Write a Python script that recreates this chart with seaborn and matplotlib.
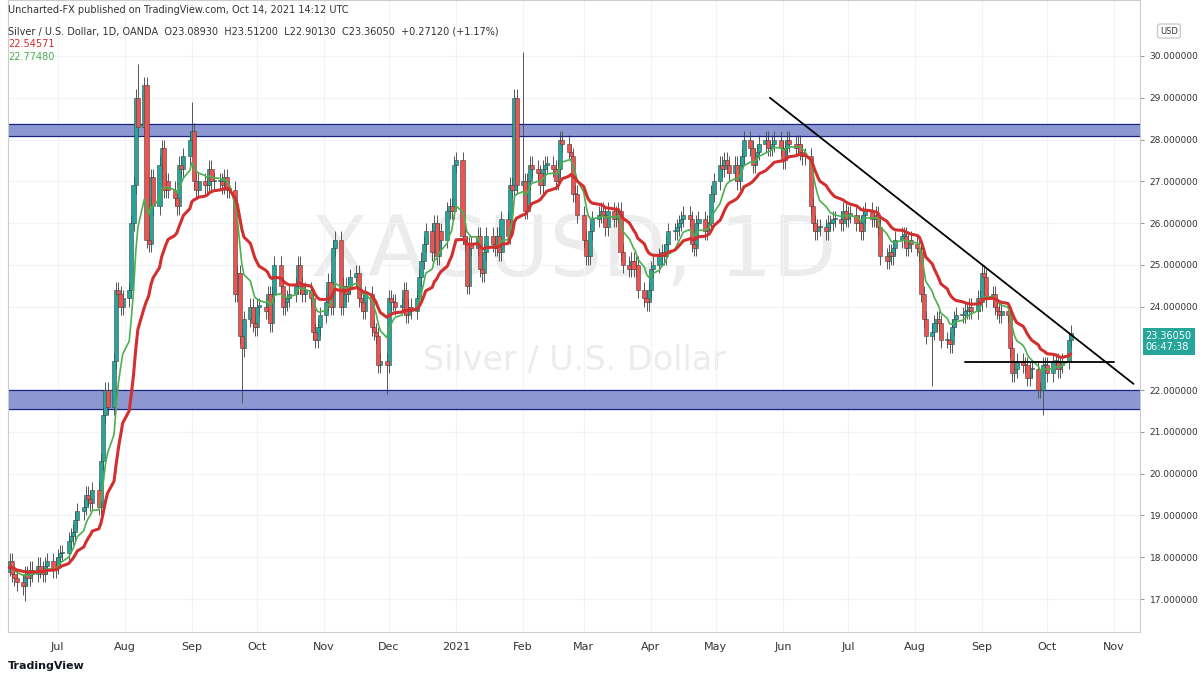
import pandas as pd
import numpy as np
import matplotlib
matplotlib.use("Agg")
import matplotlib.pyplot as plt
import matplotlib.dates as mdates
import seaborn as sns

# daily closes, Jun 2020 .. Oct 2021
jun20 = [17.75,17.9,17.6,17.5,17.4,17.3,17.6,17.5,17.7,17.6,17.8,17.7,17.6,17.8,17.9,17.7,17.8]
jul20 = [18.0,18.1,18.1,18.4,18.5,18.6,18.9,19.1,19.2,19.5,19.4,19.3,19.6,19.2,20.3,21.4,22.0,21.6,22.7,24.4,24.3,24.0,24.2]
aug20 = [24.4,26.0,26.9,29.0,28.3,29.3,25.6,25.5,27.1,26.4,27.4,27.8,26.8,27.0,26.8,26.6,26.4,27.4,27.3,27.6,28.0]
sep20 = [28.2,27.0,26.8,27.0,26.9,26.9,27.3,27.0,27.0,27.0,26.9,27.1,26.8,26.8,24.3,24.8,23.3,23.0,23.7,24.0,23.6,23.5]
oct20 = [24.0,24.0,23.9,24.3,23.6,24.3,25.0,24.5,24.0,24.1,24.2,24.3,24.5,25.0,24.5,24.3,24.4,24.2,23.4,23.2,23.5,23.8]
nov20 = [24.1,24.6,24.0,25.4,25.6,24.0,24.5,24.3,24.5,24.7,24.8,24.2,24.1,23.9,24.3,23.5,23.4,23.3,22.6,22.7,22.6]
dec20 = [24.2,24.1,24.1,24.0,24.0,24.4,23.8,24.0,23.9,24.2,24.7,25.1,25.5,25.8,25.3,26.0,25.2,25.8,25.6,26.3,26.4,26.3]
jan21 = [27.4,27.5,25.7,25.5,24.5,25.5,25.4,25.7,24.9,24.8,25.3,25.7,25.5,25.4,25.7,25.3,26.1,25.7,26.9,26.8]
feb21 = [29.0,26.9,27.0,26.3,27.0,27.4,27.3,27.2,26.9,27.3,27.4,27.4,27.3,27.0,27.3,28.0,27.9,27.7,27.6,26.7]
mar21 = [26.7,26.2,25.6,25.2,25.2,25.8,26.1,26.2,26.3,26.2,25.9,26.3,26.1,26.2,26.3,25.3,25.0,24.9,25.1,24.9,25.0,24.4,24.2]
apr21 = [24.1,24.4,24.9,25.0,25.2,25.3,25.2,25.5,25.8,25.8,25.9,26.0,26.1,26.2,26.1,25.5,25.4,26.0,26.1,25.8,26.0,26.0]
may21 = [26.7,27.0,27.4,27.3,27.5,27.4,27.2,27.4,27.0,27.4,27.6,28.0,27.8,27.4,27.6,27.7,27.9,28.0,27.8,27.8,27.9]
jun21 = [28.0,27.8,27.5,27.8,28.0,27.9,27.8,27.9,27.7,27.6,27.6,26.4,26.0,25.8,25.9,25.9,25.8,26.0,26.0,26.1,26.1,26.0]
jul21 = [26.3,26.1,26.2,26.2,26.0,26.0,25.8,26.2,26.3,26.1,26.1,26.2,25.9,25.2,25.1,25.3,25.2,25.4,25.6,25.7,25.7,25.4]
aug21 = [25.6,25.5,25.4,25.3,24.3,23.7,23.3,23.4,23.6,23.7,23.6,23.2,23.2,23.1,23.5,23.7,23.8,23.8,23.9,23.9,24.0,23.9]
sep21 = [24.2,24.1,24.8,24.7,24.2,24.3,24.0,23.9,23.8,23.9,23.8,23.0,22.4,22.5,22.7,22.6,22.6,22.3,22.5,22.5,22.0,22.0]
oct21 = [22.6,22.6,22.4,22.7,22.7,22.5,22.6,22.7,23.2,23.3605]

# notable wicks: (date, high, low)
spikes = [("2020-06-16", None, 16.95), ("2020-08-07", 29.8, None), ("2020-09-01", 28.9, None),
          ("2020-09-24", None, 21.7), ("2020-11-30", None, 21.9), ("2021-02-01", 30.1, None),
          ("2021-08-09", None, 22.1), ("2021-09-29", None, 21.4)]
top_zone = (28.08, 28.38)
bot_zone = (21.55, 22.0)
trend = (("2021-05-26", 29.0), ("2021-11-10", 22.15))
hline = ("2021-08-24", "2021-11-01", 22.68)
months = ["Jul", "Aug", "Sep", "Oct", "Nov", "Dec", "2021", "Feb", "Mar", "Apr", "May", "Jun",
          "Jul", "Aug", "Sep", "Oct", "Nov"]
price_ticks = [17, 18, 19, 20, 21, 22, 24, 25, 26, 27, 28, 29, 30]

closes = sum([jun20, jul20, aug20, sep20, oct20, nov20, dec20, jan21, feb21, mar21, apr21,
              may21, jun21, jul21, aug21, sep21, oct21], [])
dates = pd.bdate_range("2020-06-08", periods=len(closes))
df = pd.DataFrame({"date": dates, "close": closes})
df["open"] = df["close"].shift(1).fillna(df["close"].iloc[0] - 0.1)
df["high"] = df[["open", "close"]].max(axis=1) + 0.2
df["low"] = df[["open", "close"]].min(axis=1) - 0.2
for d, h, l in spikes:
    i = df["date"].searchsorted(pd.Timestamp(d))
    if h: df.loc[i, "high"] = h
    if l: df.loc[i, "low"] = l
df["fast"] = df["close"].ewm(span=9, adjust=False).mean()
df["slow"] = df["close"].ewm(span=21, adjust=False).mean()

sns.set_style("white")
fig = plt.figure(figsize=(12, 6.8), dpi=100)
ax = fig.add_axes([8/1200, 48/680, 1132/1200, 632/680])
up = df["close"] >= df["open"]
x = mdates.date2num(df["date"])
for m, col in [(up, "#26a69a"), (~up, "#ef5350")]:
    ax.vlines(x[m], df["low"][m], df["high"][m], color="#555555", lw=0.7, zorder=2)
    ax.bar(x[m], (df["close"] - df["open"])[m].abs().clip(lower=0.03),
           bottom=df[["open", "close"]].min(axis=1)[m], width=1.9, color=col,
           edgecolor="#444444", lw=0.4, zorder=3)
sns.lineplot(data=df, x="date", y="fast", color="#4caf50", lw=1.2, ax=ax, zorder=4)
sns.lineplot(data=df, x="date", y="slow", color="#d32f2f", lw=2.2, ax=ax, zorder=5)

for lo, hi in [top_zone, bot_zone]:
    ax.axhspan(lo, hi, color="#7986cb", alpha=0.85, zorder=1)
    ax.axhline(lo, color="#1a237e", lw=0.8); ax.axhline(hi, color="#1a237e", lw=0.8)
(d0, p0), (d1, p1) = trend
ax.plot([pd.Timestamp(d0), pd.Timestamp(d1)], [p0, p1], color="black", lw=1.3, zorder=6)
ax.plot([pd.Timestamp(hline[0]), pd.Timestamp(hline[1])], [hline[2]] * 2, color="black", lw=1.3, zorder=6)

ax.set_xlim(pd.Timestamp("2020-06-08"), pd.Timestamp("2021-11-13"))
ax.set_ylim(16.21, 31.34)
ax.set_xlabel(""); ax.set_ylabel("")
ticks = pd.date_range("2020-07-01", periods=len(months), freq="MS")
ax.set_xticks(ticks)
ax.set_xticklabels(months, fontsize=8, color="#333333")
ax.yaxis.tick_right()
ax.set_yticks(price_ticks)
ax.set_yticklabels([f"{p:.6f}" for p in price_ticks], fontsize=6.5, color="#333333")
ax.tick_params(length=3, pad=4, color="#999999")
for s in ax.spines.values(): s.set_color("#cccccc")
ax.grid(True, color="#f0f3fa", lw=0.8, zorder=0)

ax.text(0.5, 0.6, "XAGUSD, 1D", transform=ax.transAxes, ha="center", va="center",
        fontsize=60, color="#ececec", zorder=0.5)
ax.text(0.5, 0.43, "Silver / U.S. Dollar", transform=ax.transAxes, ha="center", va="center",
        fontsize=24, color="#ececec", zorder=0.5)
fig.text(8/1200, 1 - 10/680, "Uncharted-FX published on TradingView.com, Oct 14, 2021 14:12 UTC",
         fontsize=7, color="#333333", va="center")
fig.text(8/1200, 1 - 31/680, "Silver / U.S. Dollar, 1D, OANDA  O23.08930  H23.51200  L22.90130  C23.36050  +0.27120 (+1.17%)",
         fontsize=7, color="#333333", va="center")
fig.text(8/1200, 1 - 44/680, "22.54571", fontsize=7, color="#d32f2f", va="center")
fig.text(8/1200, 1 - 57/680, "22.77480", fontsize=7, color="#4caf50", va="center")
fig.text(1160/1200, 1 - 31/680, "USD", fontsize=6, color="#333333", va="center",
         bbox=dict(boxstyle="round,pad=0.3", fc="white", ec="#cccccc"))
ax.annotate(f"{closes[-1]:.5f}\n06:47:38", xy=(1.0, closes[-1]), xycoords=("axes fraction", "data"),
            xytext=(4, -6), textcoords="offset points", fontsize=7, color="white", va="center",
            bbox=dict(boxstyle="square,pad=0.3", fc="#26a69a", ec="none"), annotation_clip=False)
fig.text(8/1200, 1 - 666/680, "TradingView", fontsize=8, color="#131722", va="center", weight="bold")
fig.savefig("out.png", dpi=100)
